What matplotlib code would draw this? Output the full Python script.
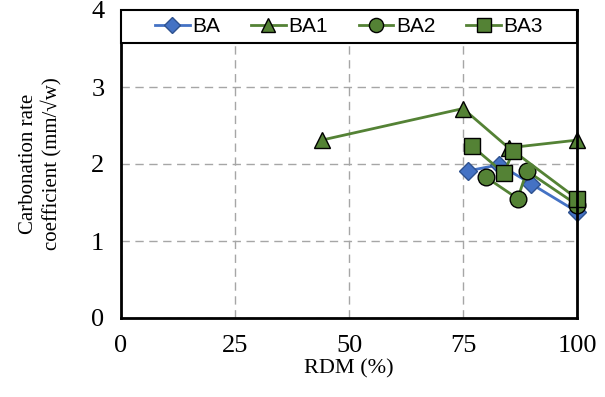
import matplotlib.pyplot as plt
from matplotlib.patches import Rectangle

# carbonation rate coefficient vs RDM for each mix series
ba_x = [76, 83, 90, 100]
ba_y = [1.91, 1.99, 1.74, 1.38]

ba1_x = [44, 75, 85, 100]
ba1_y = [2.31, 2.72, 2.21, 2.31]

ba2_x = [80, 87, 89, 100]
ba2_y = [1.83, 1.55, 1.91, 1.47]

ba3_x = [77, 84, 86, 100]
ba3_y = [2.23, 1.88, 2.17, 1.55]

x_ticks = [0, 25, 50, 75, 100]
y_ticks = [0, 1, 2, 3, 4]

blue = '#4472C4'
green = '#548235'

fig = plt.figure(figsize=(6.05, 3.97), dpi=100)
ax = fig.add_axes([121 / 605, 1 - 318 / 397, 456 / 605, 308 / 397])

ax.plot(ba_x, ba_y, color=blue, linewidth=2, marker='D', markersize=9,
        markerfacecolor=blue, markeredgecolor='#2F528F', markeredgewidth=1,
        label='BA', clip_on=False, zorder=3)
ax.plot(ba1_x, ba1_y, color=green, linewidth=2, marker='^', markersize=12,
        markerfacecolor=green, markeredgecolor='black', markeredgewidth=1,
        label='BA1', clip_on=False, zorder=3)
ax.plot(ba2_x, ba2_y, color=green, linewidth=2, marker='o', markersize=12,
        markerfacecolor=green, markeredgecolor='black', markeredgewidth=1,
        label='BA2', clip_on=False, zorder=3)
ax.plot(ba3_x, ba3_y, color=green, linewidth=2, marker='s', markersize=12,
        markerfacecolor=green, markeredgecolor='black', markeredgewidth=1,
        label='BA3', clip_on=False, zorder=3)

ax.set_xlim(0, 100)
ax.set_ylim(0, 4)
ax.set_xticks(x_ticks)
ax.set_yticks(y_ticks)
ax.tick_params(length=0, labelsize=19, pad=12)
for lbl in ax.get_xticklabels() + ax.get_yticklabels():
    lbl.set_fontfamily('Liberation Serif')

ax.grid(True, color='#A6A6A6', linestyle=(0, (6, 4)), linewidth=1)
ax.set_axisbelow(True)
for sp in ax.spines.values():
    sp.set_linewidth(2)
    sp.set_color('black')
    sp.set_zorder(4)

ax.set_xlabel('RDM (%)', fontsize=16, fontfamily='Liberation Serif', labelpad=2)
ax.set_ylabel('Carbonation rate\ncoefficient (mm/\u221aw)', fontsize=15,
              fontfamily='Liberation Serif', labelpad=21, linespacing=1.2)

# white legend strip across the top of the plot area
ax.add_patch(Rectangle((0, 0.893), 1, 0.107, transform=ax.transAxes,
                       facecolor='white', edgecolor='black', linewidth=1.5,
                       zorder=5, clip_on=False))
leg = ax.legend(loc='center', ncol=4, bbox_to_anchor=(0.5, 0.9465),
                frameon=False, borderaxespad=0,
                prop={'family': 'Liberation Sans', 'size': 15}, handlelength=1.65,
                handletextpad=0.12, columnspacing=1.5, markerscale=0.85)
leg.set_zorder(6)

fig.savefig('out.png', dpi=100)
